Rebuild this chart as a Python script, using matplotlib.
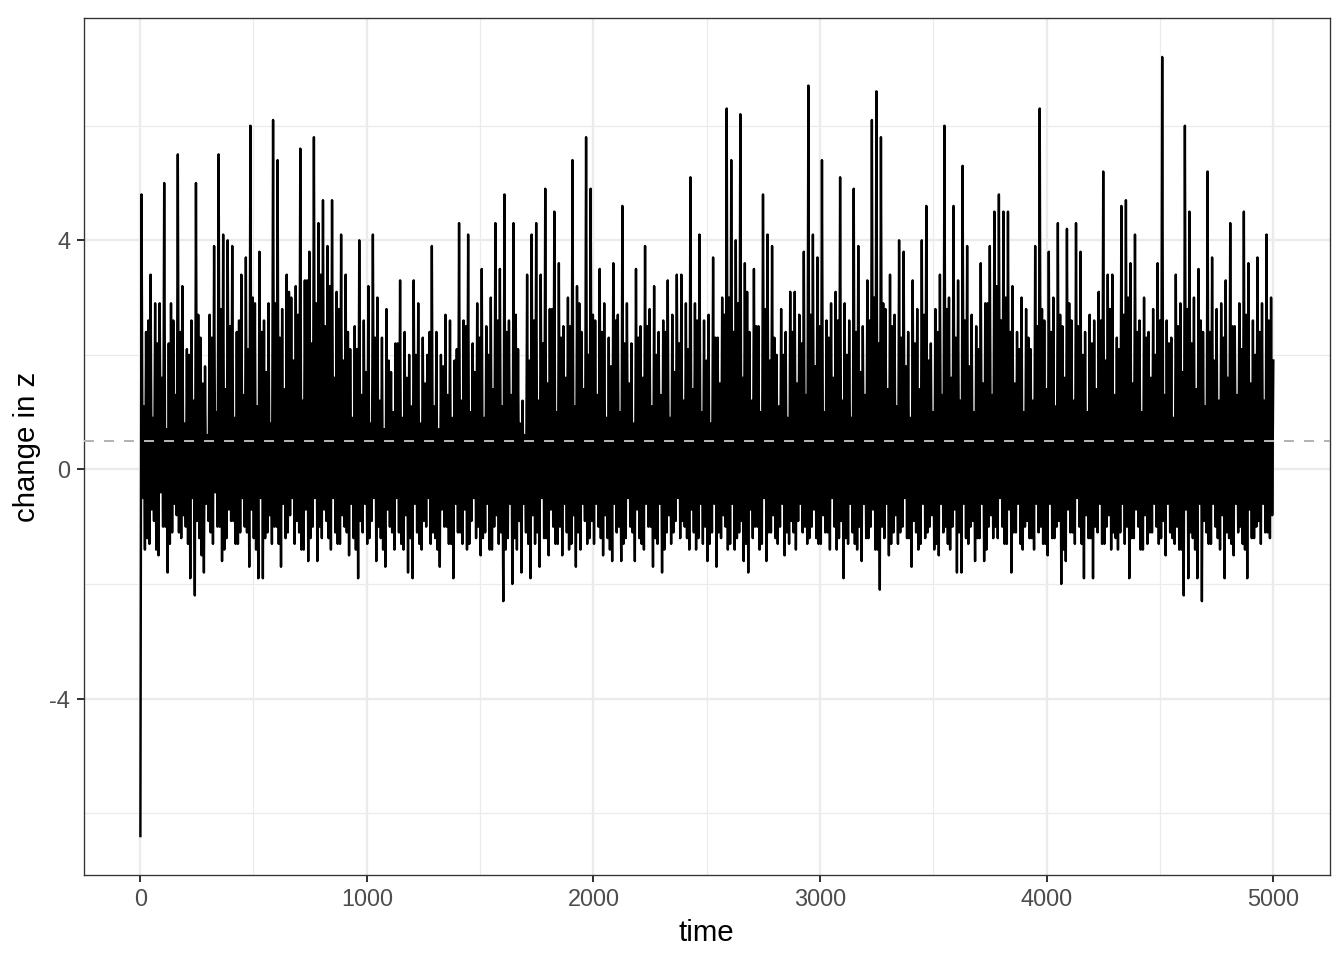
import numpy as np
import matplotlib
matplotlib.use('Agg')
import matplotlib.pyplot as plt

# values; each 20-step block gives a deep trough,
# a high peak and an inner low/high pair that fill the dense core
z_peak = [
    4.8, 2.4, 3.4, 2.9, 2.9, 5.0, 2.2, 2.6, 5.5, 3.2,
    2.1, 2.6, 5.0, 2.3, 1.8, 2.7, 3.9, 5.5, 4.1, 4.0,
    3.9, 2.4, 3.4, 3.7, 6.0, 2.9, 3.8, 2.6, 2.9, 6.1,
    5.4, 2.8, 3.4, 3.0, 3.2, 5.6, 3.3, 3.8, 5.8, 4.3,
    4.7, 3.9, 4.7, 3.1, 4.1, 3.4, 2.1, 2.5, 4.0, 2.6,
    3.2, 4.1, 3.0, 2.3, 2.8, 1.7, 2.2, 3.3, 2.4, 2.0,
    3.3, 2.9, 2.3, 2.0, 3.9, 2.4, 2.0, 2.7, 2.6, 1.9,
    4.3, 2.6, 4.1, 2.2, 2.9, 3.5, 2.5, 3.0, 4.3, 3.5,
    4.8, 2.6, 4.3, 2.1, 1.2, 3.4, 4.1, 4.3, 3.4, 4.9,
    2.8, 4.5, 3.6, 2.5, 3.0, 5.4, 3.2, 2.4, 5.8, 4.9,
    2.6, 3.5, 2.9, 2.3, 3.6, 2.7, 4.6, 2.9, 2.2, 3.5,
    2.5, 3.9, 2.8, 3.2, 2.4, 2.6, 3.3, 2.7, 3.4, 3.4,
    2.9, 5.1, 2.9, 4.1, 2.6, 2.7, 3.7, 2.3, 3.0, 6.3,
    5.4, 4.0, 6.2, 3.6, 2.4, 3.5, 2.5, 4.8, 4.1, 3.9,
    2.0, 2.8, 2.4, 3.1, 3.1, 2.7, 3.8, 6.7, 4.1, 3.7,
    5.4, 2.6, 2.9, 3.1, 5.1, 2.9, 2.6, 4.9, 3.9, 2.5,
    3.3, 6.1, 6.6, 5.8, 2.8, 3.4, 2.7, 4.0, 3.8, 2.4,
    3.3, 2.8, 4.0, 4.6, 2.2, 2.8, 3.4, 6.0, 3.0, 4.6,
    3.3, 5.3, 3.9, 2.7, 2.5, 3.6, 2.9, 3.9, 4.5, 4.8,
    4.5, 4.5, 3.2, 2.4, 3.0, 2.8, 2.1, 3.9, 6.3, 2.6,
    3.8, 3.0, 4.3, 2.5, 4.2, 2.6, 4.3, 3.8, 2.4, 2.7,
    2.6, 3.1, 5.2, 3.4, 3.4, 2.3, 4.6, 4.7, 3.6, 4.1,
    2.6, 3.0, 2.4, 2.8, 3.6, 7.2, 2.6, 2.3, 3.4, 2.9,
    6.0, 4.5, 3.0, 3.5, 2.4, 5.2, 3.7, 2.8, 2.9, 3.3,
    4.3, 2.5, 2.9, 4.5, 3.6, 2.6, 3.7, 2.9, 4.1, 3.0,
]
z_trough = [
    -6.4, -1.4, -1.3, -0.9, -1.5, -1.0, -1.8, -1.1, -0.8, -1.2,
    -1.0, -1.9, -2.2, -1.2, -1.8, -0.9, -1.3, -1.0, -1.6, -1.2,
    -0.9, -1.3, -1.1, -1.0, -1.7, -1.2, -1.9, -1.9, -1.1, -1.3,
    -1.0, -1.7, -1.2, -0.8, -1.3, -1.1, -1.4, -1.6, -1.0, -1.6,
    -1.2, -0.9, -1.4, -1.1, -1.3, -1.0, -1.5, -1.2, -1.9, -1.1,
    -1.3, -0.9, -1.6, -1.2, -1.7, -1.0, -1.4, -1.1, -1.4, -1.8,
    -1.9, -1.1, -1.4, -1.0, -1.3, -1.2, -1.7, -1.0, -1.3, -1.9,
    -1.1, -1.3, -1.4, -0.9, -1.2, -1.5, -1.1, -1.4, -1.0, -1.3,
    -2.3, -1.2, -2.0, -1.4, -1.8, -1.1, -1.9, -1.3, -1.7, -1.2,
    -1.5, -1.0, -1.3, -1.5, -1.1, -1.3, -1.7, -1.4, -0.9, -1.2,
    -1.3, -1.0, -1.5, -1.2, -1.6, -1.1, -1.6, -1.2, -1.0, -1.6,
    -1.2, -1.4, -1.0, -1.7, -1.3, -1.8, -1.1, -1.3, -0.9, -1.2,
    -1.0, -1.4, -1.1, -1.2, -1.3, -1.6, -1.1, -1.7, -1.2, -1.0,
    -1.3, -1.4, -1.1, -1.6, -1.8, -1.2, -1.0, -1.3, -1.6, -1.1,
    -1.2, -1.0, -1.5, -1.3, -1.1, -0.9, -1.1, -1.3, -1.0, -1.2,
    -1.3, -1.1, -1.4, -1.0, -1.2, -1.9, -1.3, -1.1, -1.4, -1.6,
    -1.2, -1.0, -1.4, -2.1, -1.2, -1.5, -1.1, -1.3, -1.0, -1.2,
    -1.7, -1.1, -1.3, -1.2, -1.0, -1.4, -1.5, -1.1, -1.3, -1.0,
    -1.8, -1.8, -1.2, -1.0, -1.6, -1.2, -1.6, -1.0, -1.2, -1.2,
    -1.0, -1.3, -1.8, -1.1, -1.3, -1.0, -1.2, -1.4, -1.1, -1.3,
    -1.5, -1.2, -1.0, -2.0, -1.6, -1.1, -1.3, -1.0, -1.9, -1.2,
    -1.9, -1.1, -1.3, -1.0, -1.4, -1.2, -1.1, -1.3, -1.9, -1.2,
    -1.0, -1.4, -1.3, -1.1, -1.0, -1.2, -1.5, -1.1, -1.3, -1.4,
    -2.2, -1.9, -1.2, -1.9, -2.3, -1.1, -1.3, -1.0, -1.4, -1.9,
    -1.2, -1.5, -1.1, -1.3, -1.9, -1.2, -1.0, -1.3, -1.1, -1.2,
]
z_inner_lo = [
    -0.5, -1.2, -0.7, -1.4, -0.4, -1.0, -1.3, -0.6, -1.1, -0.8,
    -1.3, -0.5, -0.9, -1.5, -0.6, -1.1, -0.4, -1.0, -1.4, -0.7,
    -0.9, -1.3, -0.5, -1.1, -0.7, -1.4, -0.5, -1.2, -0.8, -1.0,
    -1.3, -0.6, -1.1, -0.5, -0.9, -1.4, -0.7, -1.2, -0.5, -1.0,
    -0.7, -1.2, -0.5, -1.3, -0.8, -1.1, -0.6, -1.4, -0.9, -0.6,
    -1.2, -0.5, -1.0, -1.4, -0.7, -1.1, -0.5, -1.3, -0.8, -1.2,
    -0.6, -1.3, -0.9, -0.5, -1.1, -1.4, -0.7, -1.0, -1.3, -0.6,
    -1.1, -0.7, -1.3, -0.5, -1.0, -1.2, -0.6, -1.4, -0.8, -1.1,
    -1.4, -0.6, -1.2, -0.9, -0.6, -1.3, -0.8, -1.1, -0.5, -1.2,
    -0.7, -1.3, -1.0, -0.6, -1.4, -0.8, -1.1, -0.6, -1.3, -0.9,
    -0.6, -1.2, -0.8, -1.4, -0.6, -1.0, -1.3, -0.5, -1.1, -0.7,
    -1.3, -0.6, -1.0, -1.2, -0.6, -1.4, -0.8, -1.1, -0.5, -0.9,
    -1.2, -0.7, -1.4, -0.6, -1.0, -1.3, -0.6, -1.1, -0.8, -1.4,
    -0.6, -1.2, -0.9, -1.3, -0.7, -1.0, -1.4, -0.5, -1.1, -0.8,
    -1.3, -0.6, -1.1, -0.9, -1.4, -0.6, -1.0, -1.2, -0.7, -1.3,
    -0.8, -1.1, -0.5, -1.4, -0.9, -1.2, -0.6, -1.3, -1.0, -0.6,
    -1.2, -0.7, -1.4, -1.0, -0.6, -1.3, -0.8, -1.1, -0.5, -1.2,
    -0.9, -1.4, -0.6, -1.1, -0.8, -1.3, -0.6, -1.0, -1.4, -0.7,
    -1.1, -0.6, -1.3, -0.9, -1.2, -0.6, -1.4, -0.8, -1.0, -0.5,
    -1.3, -0.7, -1.1, -0.6, -1.4, -0.9, -1.2, -0.6, -1.0, -1.3,
    -0.6, -1.2, -0.9, -1.4, -0.7, -1.1, -0.5, -1.3, -0.8, -1.2,
    -1.0, -0.6, -1.3, -0.8, -1.1, -1.4, -0.6, -1.0, -1.2, -0.7,
    -1.4, -0.8, -1.1, -0.6, -1.3, -0.9, -0.6, -1.2, -1.0, -1.4,
    -0.7, -1.1, -1.4, -0.6, -0.9, -1.3, -0.6, -1.2, -0.8, -1.1,
    -1.3, -0.6, -1.0, -1.4, -0.7, -1.2, -0.9, -0.6, -1.1, -0.8,
]
z_inner_hi = [
    1.1, 2.6, 0.9, 2.2, 1.6, 0.7, 2.9, 1.3, 2.4, 0.8,
    2.0, 1.2, 2.7, 1.5, 0.6, 2.3, 1.0, 2.8, 1.4, 2.5,
    0.9, 2.6, 1.3, 2.1, 3.0, 1.1, 2.4, 1.7, 0.8, 2.9,
    2.3, 1.4, 3.1, 1.9, 2.7, 1.2, 3.3, 2.2, 2.9, 3.4,
    2.5, 3.2, 1.6, 2.8, 1.9, 2.4, 0.9, 2.1, 1.3, 1.7,
    0.8, 2.3, 1.2, 0.7, 1.9, 1.0, 2.2, 0.9, 1.6, 1.1,
    2.0, 0.8, 1.5, 2.4, 1.1, 0.7, 1.8, 1.3, 0.9, 2.1,
    1.2, 2.5, 1.0, 1.7, 2.3, 0.9, 2.0, 1.4, 2.6, 1.1,
    2.4, 1.3, 2.7, 0.8, 0.6, 1.9, 2.6, 1.2, 2.2, 1.5,
    2.8, 1.0, 2.3, 1.6, 2.5, 1.1, 2.9, 1.4, 2.0, 2.7,
    1.3, 2.4, 0.9, 1.8, 2.6, 1.0, 2.2, 1.5, 0.8, 2.3,
    1.6, 2.5, 1.1, 2.0, 1.3, 2.4, 0.9, 1.7, 2.2, 1.2,
    2.1, 1.4, 2.6, 1.0, 1.9, 0.8, 2.3, 1.5, 2.7, 3.0,
    2.4, 2.9, 1.6, 3.1, 1.2, 2.5, 1.0, 2.8, 1.9, 2.3,
    1.1, 2.0, 0.9, 2.4, 1.5, 2.2, 1.3, 2.7, 1.8, 2.5,
    1.0, 2.3, 1.6, 2.6, 1.2, 2.0, 0.9, 2.4, 1.7, 1.3,
    2.6, 3.0, 2.2, 2.9, 1.4, 2.5, 1.1, 2.3, 1.8, 0.9,
    2.2, 1.4, 2.7, 1.9, 1.0, 2.4, 1.3, 2.8, 1.6, 2.3,
    1.2, 2.6, 1.8, 1.0, 2.1, 1.5, 2.9, 1.3, 3.2, 2.6,
    3.0, 2.4, 1.5, 2.1, 1.0, 2.3, 1.2, 2.5, 2.8, 1.4,
    2.4, 1.1, 2.7, 1.6, 2.9, 1.2, 2.5, 2.0, 1.0, 2.2,
    1.4, 2.6, 1.9, 2.8, 1.3, 2.1, 2.7, 3.0, 1.5, 2.4,
    1.0, 2.3, 1.6, 2.0, 2.6, 1.3, 2.2, 0.9, 2.5, 1.7,
    2.8, 2.2, 1.4, 2.6, 1.1, 2.4, 1.9, 1.2, 2.3, 1.6,
    2.5, 1.3, 2.1, 2.7, 1.5, 2.0, 2.4, 1.2, 2.6, 1.9,
]
mean_line = 0.5
n_steps = 5000

z = np.empty(4 * len(z_peak))
z[0::4] = z_trough
z[1::4] = z_peak
z[2::4] = z_inner_lo
z[3::4] = z_inner_hi
time = np.linspace(1, n_steps, len(z))

plt.rcParams['font.family'] = ['Liberation Sans', 'DejaVu Sans']

W, H, DPI = 1344, 960, 192
fig = plt.figure(figsize=(W / DPI, H / DPI), dpi=DPI)
ax = fig.add_axes([83.5 / W, 1 - 875 / H, (1330 - 83.5) / W, (875 - 18) / H])

ax.plot(time, z, color='black', lw=0.9, zorder=3)
ax.axhline(mean_line, color='#B3B3B3', lw=0.75, ls=(0, (5, 5)), zorder=4)

ax.set_xlim(-250, 5250)
ax.set_ylim(-7.08, 7.88)
ax.set_xticks([0, 1000, 2000, 3000, 4000, 5000])
ax.set_xticks([500, 1500, 2500, 3500, 4500], minor=True)
ax.set_yticks([-4, 0, 4])
ax.set_yticklabels(['-4', '0', '4'])
ax.set_yticks([-6, -2, 2, 6], minor=True)

ax.grid(which='major', color='#EBEBEB', lw=0.9, zorder=0)
ax.grid(which='minor', color='#EBEBEB', lw=0.45, zorder=0)
ax.set_axisbelow(True)

for s in ax.spines.values():
    s.set_color('#333333')
    s.set_linewidth(0.5)
ax.tick_params(which='major', length=2.75, width=0.75, color='#333333',
               labelcolor='#4D4D4D', labelsize=8.8, pad=2.2)
ax.tick_params(which='minor', length=0)

ax.set_xlabel('time', fontsize=11, labelpad=3)
ax.set_ylabel('change in z', fontsize=11, labelpad=3)

fig.savefig('out.png', dpi=DPI, facecolor='white')
